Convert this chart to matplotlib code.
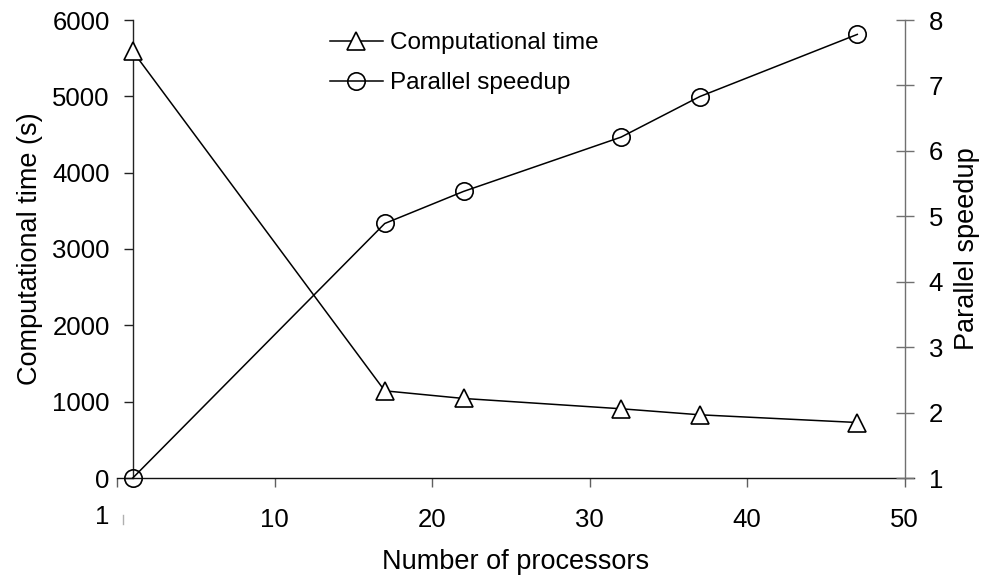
import matplotlib
matplotlib.use("Agg")
import matplotlib.pyplot as plt
from matplotlib.lines import Line2D

plt.rcParams['font.family'] = ['Liberation Sans', 'DejaVu Sans']

processors = [1, 17, 22, 32, 37, 47]
comp_time = [5590, 1142, 1042, 907, 828, 727]
speedup = [1.0, 4.89, 5.38, 6.21, 6.83, 7.78]

x_ticks = [0, 10, 20, 30, 40, 50]
x_tick_labels = ['', '10', '20', '30', '40', '50']
time_ticks = [0, 1000, 2000, 3000, 4000, 5000, 6000]
speedup_ticks = [1, 2, 3, 4, 5, 6, 7, 8]

TICK_FS = 18.5
TITLE_FS = 19.5
LEG_FS = 17.5
W, H = 989, 582
fig = plt.figure(figsize=(W / 100, H / 100), dpi=100)
ax = fig.add_axes([117 / W, 1 - 478 / H, (914 - 117) / W, (478 - 20) / H])
ax2 = ax.twinx()

ax.set_xlim(0, 50.6)
ax.set_ylim(0, 6000)
ax2.set_ylim(1, 8)

l1, = ax.plot(processors, comp_time, color='black', lw=1.1, marker='^', ms=13,
              mfc='white', mec='black', mew=1.2, label='Computational time',
              clip_on=False, zorder=3)
l2, = ax2.plot(processors, speedup, color='black', lw=1.1, marker='o', ms=12.5,
               mfc='none', mec='black', mew=1.2, label='Parallel speedup',
               clip_on=False, zorder=3)

# spines
for a in (ax, ax2):
    a.spines['top'].set_visible(False)
ax.spines['right'].set_visible(False)
ax2.spines['left'].set_visible(False)
ax2.spines['bottom'].set_visible(False)
ax.spines['left'].set_position(('data', 1))
ax2.spines['right'].set_position(('data', 50))
ax.spines['left'].set_color('#222222')
ax.spines['bottom'].set_color('#111111')
ax2.spines['right'].set_color('#707070')
for s in (ax.spines['left'], ax.spines['bottom'], ax2.spines['right']):
    s.set_linewidth(1.0)

ax.set_xticks(x_ticks)
ax.set_xticklabels(x_tick_labels)
ax.set_yticks(time_ticks)
ax2.set_yticks(speedup_ticks)

ax.tick_params(axis='x', direction='out', length=6.5, width=1.0, color='#606060',
               labelsize=TICK_FS, pad=15)
ax.tick_params(axis='y', direction='out', length=6.5, width=1.0, color='#222222',
               labelsize=TICK_FS, pad=10)
ax2.tick_params(axis='y', direction='inout', length=13, width=1.0, color='#707070',
                labelsize=TICK_FS, pad=11)

# stray "1" under the origin
ax.text(-0.95, -0.086, '1', transform=ax.get_xaxis_transform(), fontsize=TICK_FS,
        ha='center', va='center', clip_on=False)
ax.add_line(Line2D([0.38, 0.38], [-0.08, -0.1], transform=ax.get_xaxis_transform(),
                   color='#b0b0b0', lw=1.0, clip_on=False))

ax.set_xlabel('Number of processors', fontsize=TITLE_FS, labelpad=12)
ax.set_ylabel('Computational time (s)', fontsize=TITLE_FS, labelpad=7)
ax2.set_ylabel('Parallel speedup', fontsize=TITLE_FS, labelpad=8)

ax2.legend(handles=[l1, l2], loc='upper left', bbox_to_anchor=(0.2555, 0.995),
           frameon=False, fontsize=LEG_FS, handlelength=2.15, handletextpad=0.3,
           labelspacing=0.75, borderaxespad=0)

fig.savefig('out.png', dpi=100)
